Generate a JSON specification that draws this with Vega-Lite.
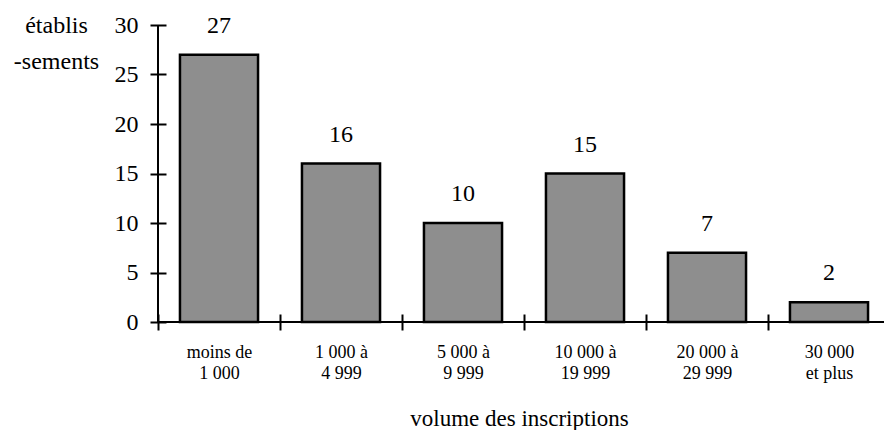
{
  "$schema": "https://vega.github.io/schema/vega-lite/v6.json",
  "autosize": "none",
  "width": 732,
  "height": 297,
  "padding": {"left": 158, "top": 25, "right": 0, "bottom": 108},
  "background": "white",
  "config": {
    "font": "'Liberation Serif', 'Times New Roman', serif",
    "view": {"stroke": null}
  },
  "data": {
    "values": [
      {"volume": "moins de|1 000", "etablissements": 27},
      {"volume": "1 000 à|4 999", "etablissements": 16},
      {"volume": "5 000 à|9 999", "etablissements": 10},
      {"volume": "10 000 à|19 999", "etablissements": 15},
      {"volume": "20 000 à|29 999", "etablissements": 7},
      {"volume": "30 000|et plus", "etablissements": 2}
    ]
  },
  "resolve": {"scale": {"x": "independent"}},
  "layer": [
    {
      "encoding": {
        "x": {
          "field": "volume",
          "type": "nominal",
          "sort": null,
          "scale": {"paddingInner": 0.36, "paddingOuter": 0.18},
          "axis": {
            "title": "volume des inscriptions",
            "titleFont": "'Liberation Serif', 'Times New Roman', serif",
            "titleFontSize": 23,
            "titleFontWeight": "normal",
            "titleColor": "black",
            "titlePadding": 25,
            "titleX": 361,
            "labelExpr": "split(datum.label, '|')",
            "labelFont": "'Liberation Serif', 'Times New Roman', serif",
            "labelFontSize": 18,
            "labelLineHeight": 21,
            "labelColor": "black",
            "labelAngle": 0,
            "labelPadding": 13,
            "tickOffset": -61,
            "labelOffset": 61,
            "tickSize": 16,
            "tickWidth": 2,
            "tickColor": "black",
            "offset": -8,
            "domain": false,
            "grid": false
          }
        },
        "y": {
          "field": "etablissements",
          "type": "quantitative",
          "scale": {"domain": [0, 30], "nice": false},
          "axis": {
            "values": [0, 5, 10, 15, 20, 25, 30],
            "title": ["établis", "-sements"],
            "titleAngle": 0,
            "titleAlign": "center",
            "titleBaseline": "alphabetic",
            "titleX": -110,
            "titleY": 7,
            "titleFont": "'Liberation Serif', 'Times New Roman', serif",
            "titleFontSize": 24,
            "titleFontWeight": "normal",
            "titleLineHeight": 36,
            "titleColor": "black",
            "labelFont": "'Liberation Serif', 'Times New Roman', serif",
            "labelFontSize": 24,
            "labelColor": "black",
            "labelPadding": 12,
            "tickSize": 16,
            "tickWidth": 2,
            "tickColor": "black",
            "offset": -8,
            "domain": false,
            "grid": false
          }
        }
      },
      "layer": [
        {
          "mark": {"type": "bar", "fill": "#8e8e8e", "stroke": "black", "strokeWidth": 2.5}
        },
        {
          "mark": {"type": "text", "fontSize": 24, "baseline": "alphabetic", "dy": -22, "color": "black", "font": "'Liberation Serif', 'Times New Roman', serif"},
          "encoding": {"text": {"field": "etablissements", "type": "quantitative"}}
        }
      ]
    },
    {
      "mark": {"type": "rule", "color": "black", "strokeWidth": 2},
      "encoding": {
        "x": {"datum": 0, "type": "quantitative", "scale": {"domain": [0, 1]}, "axis": null},
        "y": {"datum": 0, "type": "quantitative"},
        "y2": {"datum": 30}
      }
    },
    {
      "mark": {"type": "rule", "color": "black", "strokeWidth": 2},
      "encoding": {
        "y": {"datum": 0, "type": "quantitative"}
      }
    }
  ]
}
